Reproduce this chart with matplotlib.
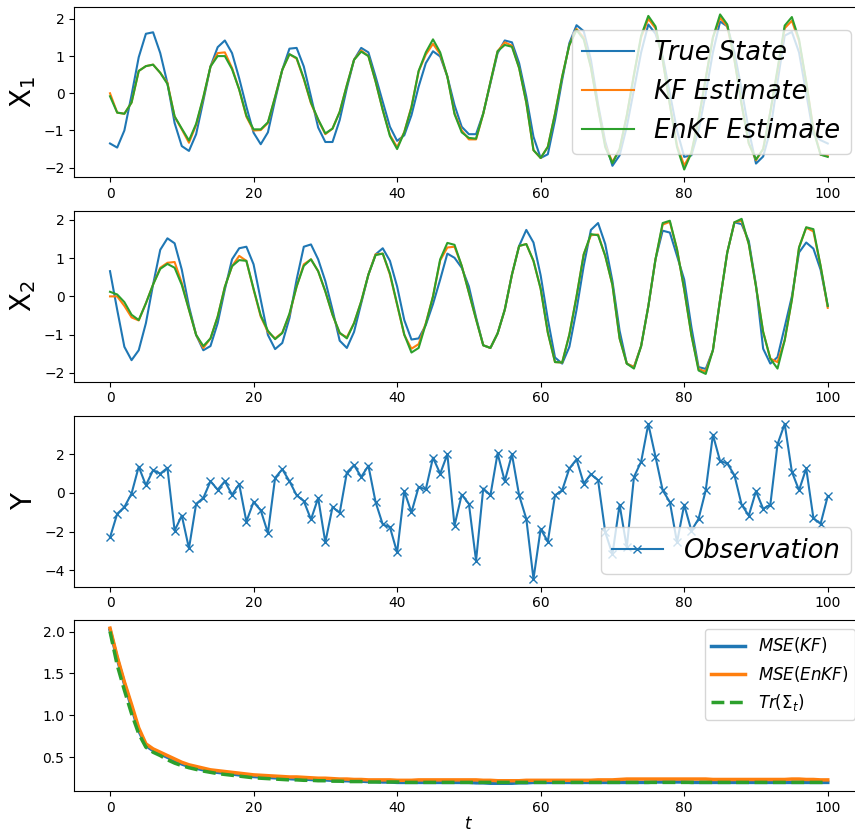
import numpy as np
import matplotlib.pyplot as plt

t = np.arange(101)

# state X1
x1_true = [-1.35, -1.46, -1.0, -0.05, 0.97, 1.6, 1.64, 1.08, 0.27, -0.8,
           -1.42, -1.55, -1.1, -0.2, 0.72, 1.24, 1.42, 1.08, 0.4, -0.36,
           -1.06, -1.37, -1.05, -0.18, 0.63, 1.2, 1.22, 0.72, -0.09, -0.92,
           -1.31, -1.31, -0.72, 0.14, 0.9, 1.22, 1.1, 0.45, -0.23, -0.9,
           -1.28, -1.13, -0.59, 0.18, 0.81, 1.13, 0.99, 0.45, -0.32, -0.9,
           -1.1, -1.1, -0.54, 0.27, 1.08, 1.42, 1.37, 0.81, -0.09, -1.17,
           -1.74, -1.64, -0.72, 0.36, 1.35, 1.83, 1.67, 0.9, -0.3, -1.3,
           -1.95, -1.67, -0.9, 0.1, 1.1, 1.85, 1.6, 1.0, 0.0, -1.0,
           -1.71, -1.67, -1.0, 0.0, 1.1, 1.93, 1.8, 1.1, 0.1, -1.0,
           -1.89, -1.7, -1.0, 0.3, 1.55, 1.65, 1.1, 0.0, -1.1, -1.26,
           -1.35]
x1_kf = [0.0, -0.52, -0.55, -0.25, 0.6, 0.73, 0.77, 0.55, 0.28, -0.63,
         -0.97, -1.33, -0.85, -0.12, 0.72, 1.08, 1.1, 0.68, 0.1, -0.63,
         -1.0, -0.99, -0.8, -0.1, 0.63, 1.05, 0.93, 0.38, -0.27, -0.72,
         -1.1, -0.95, -0.5, 0.22, 0.9, 1.15, 1.0, 0.32, -0.45, -1.12,
         -1.45, -1.04, -0.36, 0.59, 1.04, 1.33, 1.05, 0.45, -0.54, -1.0,
         -1.24, -1.24, -0.55, 0.3, 1.13, 1.37, 1.28, 0.68, -0.25, -1.53,
         -1.74, -1.44, -0.55, 0.45, 1.3, 1.73, 1.5, 0.7, -0.4, -1.4,
         -1.85, -1.5, -0.6, 0.5, 1.5, 2.0, 1.75, 0.9, -0.3, -1.4,
         -1.94, -1.6, -0.7, 0.4, 1.5, 2.03, 1.8, 0.9, -0.3, -1.35,
         -1.8, -1.5, -0.5, 0.6, 1.75, 1.95, 1.4, 0.3, -0.95, -1.65,
         -1.69]
x1_enkf = [-0.08, -0.52, -0.55, -0.25, 0.6, 0.73, 0.77, 0.55, 0.25, -0.62,
           -0.95, -1.27, -0.82, -0.1, 0.72, 1.0, 1.0, 0.65, 0.1, -0.6,
           -0.97, -0.97, -0.78, -0.1, 0.63, 1.05, 0.95, 0.4, -0.25, -0.7,
           -1.08, -0.95, -0.5, 0.22, 0.9, 1.12, 1.0, 0.32, -0.45, -1.15,
           -1.5, -1.05, -0.38, 0.6, 1.1, 1.45, 1.1, 0.45, -0.56, -1.05,
           -1.2, -1.22, -0.55, 0.3, 1.13, 1.3, 1.25, 0.68, -0.25, -1.53,
           -1.74, -1.44, -0.55, 0.45, 1.3, 1.7, 1.45, 0.7, -0.4, -1.45,
           -1.88, -1.5, -0.6, 0.5, 1.55, 2.08, 1.8, 0.9, -0.3, -1.45,
           -2.05, -1.6, -0.7, 0.4, 1.5, 2.12, 1.85, 0.9, -0.3, -1.35,
           -1.78, -1.5, -0.5, 0.65, 1.82, 2.05, 1.45, 0.3, -1.0, -1.65,
           -1.71]

# state X2
x2_true = [0.66, -0.35, -1.32, -1.67, -1.41, -0.7, 0.31, 1.22, 1.52, 1.39,
           0.7, -0.26, -1.01, -1.41, -1.3, -0.7, 0.18, 0.97, 1.26, 1.3,
           0.84, -0.09, -1.01, -1.38, -1.22, -0.57, 0.44, 1.3, 1.36, 0.97,
           0.4, -0.35, -1.16, -1.35, -0.93, -0.18, 0.57, 1.1, 1.26, 0.93,
           0.26, -0.62, -1.13, -1.1, -0.75, -0.2, 0.44, 1.12, 1.01, 0.75,
           0.26, -0.55, -1.28, -1.35, -0.97, -0.35, 0.57, 1.32, 1.74, 1.41,
           0.55, -0.6, -1.6, -1.76, -1.32, -0.35, 0.8, 1.74, 1.92, 1.37,
           0.4, -0.9, -1.76, -1.85, -1.3, -0.26, 0.97, 1.72, 1.67, 1.06,
           0.44, -0.8, -1.85, -1.9, -1.41, -0.09, 1.15, 1.94, 1.89, 1.45,
           0.3, -1.37, -1.76, -1.59, -0.8, 0.0, 1.15, 1.41, 1.25, 0.7,
           -0.25]
x2_kf = [0.0, 0.0, -0.25, -0.55, -0.63, -0.18, 0.31, 0.75, 0.88, 0.9,
         0.35, -0.35, -1.01, -1.35, -1.1, -0.53, 0.25, 0.79, 1.06, 0.93,
         0.18, -0.53, -0.93, -1.1, -0.95, -0.48, 0.26, 0.84, 0.97, 0.66,
         0.13, -0.48, -0.97, -1.07, -0.7, -0.13, 0.57, 1.1, 1.12, 0.57,
         -0.22, -1.01, -1.37, -1.25, -0.7, 0.0, 0.94, 1.28, 1.3, 0.8,
         0.1, -0.6, -1.28, -1.35, -0.97, -0.35, 0.57, 1.32, 1.37, 0.93,
         0.2, -0.95, -1.72, -1.73, -1.0, 0.0, 1.1, 1.6, 1.62, 1.06,
         0.3, -1.1, -1.76, -1.85, -1.3, -0.26, 0.97, 1.88, 1.95, 1.23,
         0.18, -1.01, -1.9, -1.97, -1.41, -0.09, 1.15, 1.94, 1.98, 1.37,
         0.26, -0.93, -1.63, -1.72, -1.15, -0.09, 1.28, 1.8, 1.7, 0.8,
         -0.3]
x2_enkf = [0.12, 0.05, -0.15, -0.48, -0.62, -0.18, 0.31, 0.72, 0.85, 0.75,
           0.3, -0.35, -1.01, -1.3, -1.1, -0.53, 0.25, 0.79, 0.95, 0.93,
           0.2, -0.5, -0.9, -1.12, -0.96, -0.45, 0.26, 0.8, 0.97, 0.66,
           0.13, -0.48, -0.95, -1.1, -0.7, -0.13, 0.57, 1.08, 1.12, 0.6,
           -0.2, -1.0, -1.47, -1.35, -0.72, 0.0, 0.97, 1.4, 1.35, 0.8,
           0.1, -0.6, -1.28, -1.35, -0.97, -0.35, 0.57, 1.32, 1.37, 0.93,
           0.2, -0.95, -1.72, -1.73, -1.0, 0.0, 1.1, 1.63, 1.6, 1.06,
           0.3, -1.1, -1.76, -1.89, -1.3, -0.26, 0.97, 1.92, 1.98, 1.23,
           0.18, -1.01, -1.94, -2.03, -1.41, -0.09, 1.15, 1.94, 2.03, 1.37,
           0.26, -0.93, -1.63, -1.89, -1.15, -0.09, 1.28, 1.81, 1.76, 0.8,
           -0.25]

# observations
y_obs = [-2.3, -1.08, -0.73, -0.03, 1.36, 0.4, 1.18, 1.0, 1.3, -1.95,
         -1.17, -2.87, -0.56, -0.26, 0.61, 0.17, 0.61, -0.09, 0.45, -1.48,
         -0.47, -0.9, -2.07, 0.78, 1.23, 0.61, -0.12, -0.42, -1.37, -0.26,
         -2.56, -0.73, -1.03, 1.06, 1.44, 0.83, 1.41, -0.47, -1.63, -1.77,
         -3.08, 0.09, -1.0, 0.31, 0.19, 1.83, 1.0, 2.0, -1.69, -0.09,
         -0.56, -3.51, 0.23, -0.12, 2.05, 0.61, 2.0, -0.12, -1.34, -4.45,
         -1.86, -2.52, -0.12, 0.14, 1.27, 1.74, 0.49, 0.97, 0.66, -2.03,
         -3.17, -0.61, -2.82, 0.83, 1.62, 3.57, 1.88, 0.14, -0.47, -2.56,
         -0.61, -1.95, -1.34, 0.14, 3.01, 1.65, 1.53, 0.92, -0.61, -1.17,
         0.09, -0.82, -0.61, 2.52, 3.58, 1.1, 0.14, 1.27, -1.3, -1.6,
         -0.16]

# error curves
mse_kf = [2.02, 1.68, 1.38, 1.1, 0.82, 0.64, 0.58, 0.54, 0.5, 0.46,
          0.42, 0.39, 0.37, 0.35, 0.33, 0.32, 0.31, 0.3, 0.29, 0.28,
          0.27, 0.265, 0.26, 0.255, 0.25, 0.245, 0.24, 0.24, 0.235, 0.23,
          0.23, 0.225, 0.22, 0.22, 0.215, 0.215, 0.21, 0.21, 0.205, 0.205,
          0.2, 0.2, 0.2, 0.2, 0.2, 0.2, 0.2, 0.2, 0.2, 0.2,
          0.2, 0.195, 0.195, 0.19, 0.19, 0.19, 0.19, 0.195, 0.195, 0.2,
          0.2, 0.2, 0.2, 0.2, 0.2, 0.2, 0.2, 0.2, 0.2, 0.2,
          0.2, 0.2, 0.2, 0.2, 0.2, 0.2, 0.205, 0.205, 0.205, 0.205,
          0.205, 0.2, 0.2, 0.2, 0.2, 0.2, 0.2, 0.2, 0.2, 0.2,
          0.2, 0.2, 0.2, 0.2, 0.2, 0.2, 0.2, 0.2, 0.2, 0.2,
          0.2]
mse_enkf = [2.04, 1.7, 1.4, 1.13, 0.85, 0.66, 0.6, 0.56, 0.52, 0.48,
            0.44, 0.41, 0.39, 0.37, 0.35, 0.34, 0.33, 0.32, 0.31, 0.3,
            0.29, 0.285, 0.28, 0.275, 0.27, 0.265, 0.265, 0.26, 0.255, 0.25,
            0.25, 0.245, 0.24, 0.24, 0.235, 0.235, 0.23, 0.23, 0.23, 0.23,
            0.225, 0.225, 0.225, 0.23, 0.23, 0.23, 0.23, 0.23, 0.23, 0.23,
            0.23, 0.23, 0.225, 0.225, 0.22, 0.22, 0.22, 0.22, 0.225, 0.225,
            0.225, 0.225, 0.225, 0.225, 0.225, 0.225, 0.225, 0.225, 0.23, 0.23,
            0.23, 0.235, 0.24, 0.24, 0.24, 0.24, 0.24, 0.24, 0.24, 0.24,
            0.24, 0.24, 0.24, 0.24, 0.235, 0.235, 0.235, 0.235, 0.235, 0.235,
            0.235, 0.235, 0.235, 0.235, 0.235, 0.24, 0.24, 0.235, 0.235, 0.23,
            0.23]
trace_sigma = [2.0, 1.6, 1.3, 1.02, 0.78, 0.62, 0.56, 0.52, 0.47, 0.43,
               0.4, 0.375, 0.355, 0.335, 0.32, 0.305, 0.295, 0.285, 0.275, 0.265,
               0.255, 0.25, 0.245, 0.24, 0.235, 0.23, 0.23, 0.225, 0.225, 0.22,
               0.22, 0.215, 0.215, 0.21, 0.21, 0.21, 0.205, 0.205, 0.205, 0.205,
               0.205, 0.2, 0.2, 0.2, 0.2, 0.2, 0.2, 0.2, 0.2, 0.2,
               0.2, 0.2, 0.2, 0.2, 0.2, 0.2, 0.2, 0.2, 0.2, 0.2,
               0.2, 0.2, 0.2, 0.2, 0.2, 0.2, 0.2, 0.2, 0.2, 0.2,
               0.2, 0.2, 0.2, 0.2, 0.2, 0.2, 0.2, 0.2, 0.2, 0.2,
               0.2, 0.2, 0.2, 0.2, 0.2, 0.2, 0.2, 0.2, 0.2, 0.2,
               0.2, 0.2, 0.2, 0.2, 0.2, 0.2, 0.2, 0.2, 0.2, 0.2,
               0.2]

fig = plt.figure(figsize=(8.55, 8.35), dpi=100)
left, width, height = 0.0867, 0.9234, 0.2043
ax1 = fig.add_axes([left, 0.7877, width, height])
ax2 = fig.add_axes([left, 0.5429, width, height])
ax3 = fig.add_axes([left, 0.2974, width, height])
ax4 = fig.add_axes([left, 0.0527, width, height])

big = {'style': 'italic', 'size': 18.5}

# X1 panel
ax1.plot(t, x1_true, label='True State')
ax1.plot(t, x1_kf, label='KF Estimate')
ax1.plot(t, x1_enkf, label='EnKF Estimate')
ax1.set_ylabel('X$_1$', fontsize=20)
ax1.legend(loc='center right', prop=big)

# X2 panel
ax2.plot(t, x2_true)
ax2.plot(t, x2_kf)
ax2.plot(t, x2_enkf)
ax2.set_ylabel('X$_2$', fontsize=20)

# observations
ax3.plot(t, y_obs, marker='x', label='Observation')
ax3.set_ylabel('Y', fontsize=20)
ax3.legend(loc='lower right', prop=big)

# errors
ax4.plot(t, mse_kf, lw=2.5, label='$MSE(KF)$')
ax4.plot(t, mse_enkf, lw=2.5, label='$MSE(EnKF)$')
ax4.plot(t, trace_sigma, lw=2.5, ls='--', label=r'$Tr(\Sigma_t)$')
ax4.set_xlabel('$t$', fontsize=12, labelpad=0)
ax4.legend(loc='upper right', fontsize=12)

for ax in (ax1, ax2, ax3, ax4):
    ax.set_xticks([0, 20, 40, 60, 80, 100])

fig.savefig('out.png', dpi=100)
